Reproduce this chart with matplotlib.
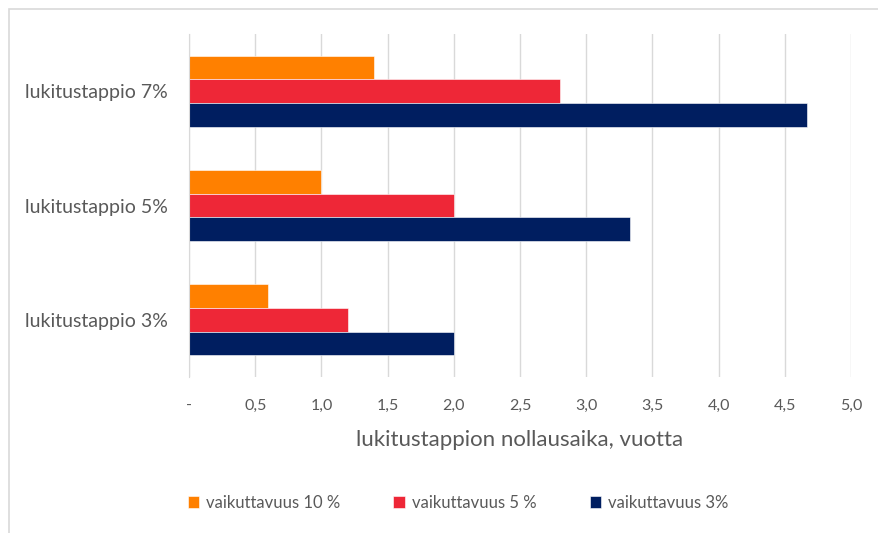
import numpy as np
import matplotlib.pyplot as plt
from matplotlib.patches import Rectangle

# Data
categories = ["lukitustappio 3%", "lukitustappio 5%", "lukitustappio 7%"]
series_names = ["vaikuttavuus 10 %", "vaikuttavuus 5 %", "vaikuttavuus 3%"]
eff_10 = [0.6, 1.0, 1.4]
eff_5 = [1.2, 2.0, 2.8]
eff_3 = [2.0, 3.33, 4.67]
xticks = [0, 0.5, 1.0, 1.5, 2.0, 2.5, 3.0, 3.5, 4.0, 4.5, 5.0]
xticklabels = ["-", "0,5", "1,0", "1,5", "2,0", "2,5", "3,0", "3,5", "4,0", "4,5", "5,0"]

colors = ["#FF8000", "#EE2737", "#001E60"]
text_col = "#595959"
grid_col = "#D9D9D9"

plt.rcParams['font.family'] = ['Lato', 'DejaVu Sans']

fig = plt.figure(figsize=(8.79, 5.33), dpi=100)
ax = fig.add_axes([189 / 879, 1 - 377 / 533, (851 - 189) / 879, (377 - 34) / 533])

# chart frame
fig.patches.append(Rectangle((9 / 879, -0.1), 1.1, 1 - 9 / 533 + 0.1,
                             transform=fig.transFigure, fill=False,
                             edgecolor=grid_col, linewidth=1.2))

y = np.arange(len(categories))
h = 0.207
for i, (vals, name) in enumerate(zip([eff_10, eff_5, eff_3], series_names)):
    ax.barh(y + (1 - i) * h, vals, height=h, color=colors[i], label=name,
            edgecolor="white", linewidth=0.4, zorder=3)

ax.set_xlim(0, 5.0)
ax.set_ylim(-0.5, 2.5)
ax.set_xticks(xticks)
ax.set_xticklabels(xticklabels)
ax.set_yticks(y)
ax.set_yticklabels(categories)
ax.tick_params(axis='both', length=0, colors=text_col)
ax.tick_params(axis='x', pad=16, labelsize=11.5)
ax.tick_params(axis='y', pad=15, labelsize=14)
ax.grid(axis='x', color=grid_col, linewidth=1, zorder=0)
for s in ["top", "right", "bottom"]:
    ax.spines[s].set_visible(False)
ax.spines["left"].set_color(grid_col)
ax.spines["left"].set_zorder(4)

ax.set_xlabel("lukitustappion nollausaika, vuotta", color=text_col, fontsize=16, labelpad=12)

handles, labels = ax.get_legend_handles_labels()
fig.legend(handles, labels, loc='center', bbox_to_anchor=(458 / 879, 1 - 503 / 533),
           ncol=3, frameon=False, fontsize=12, labelcolor=text_col,
           handlelength=0.7, handleheight=0.7, handletextpad=0.4, columnspacing=3.2)

fig.savefig("out.png", dpi=100, facecolor="white")
